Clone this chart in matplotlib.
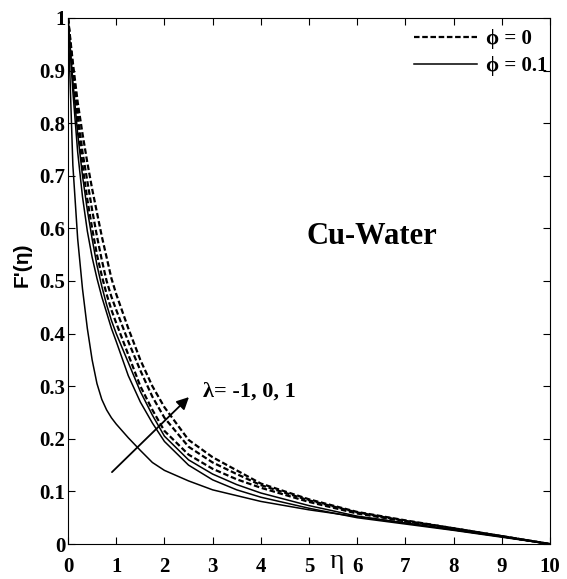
import numpy as np
import matplotlib.pyplot as plt

# eta grid shared by all curves
eta = [0, 0.1, 0.2, 0.3, 0.4, 0.5, 0.6, 0.7, 0.8, 0.9, 1.0, 1.25, 1.5, 1.75, 2.0,
       2.5, 3.0, 3.5, 4.0, 5.0, 6.0, 7.0, 8.0, 9.0, 10.0]

# phi = 0 (dashed), lambda = -1, 0, 1
f_phi0_lm1 = [1.0, 0.895, 0.80, 0.72, 0.655, 0.60, 0.55, 0.51, 0.475, 0.445, 0.42, 0.36, 0.30,
              0.255, 0.215, 0.17, 0.143, 0.123, 0.107, 0.080, 0.058, 0.043, 0.029, 0.015, 0.0]
f_phi0_l0 = [1.0, 0.905, 0.82, 0.745, 0.69, 0.635, 0.585, 0.54, 0.50, 0.47, 0.445, 0.385, 0.33,
             0.28, 0.24, 0.185, 0.155, 0.133, 0.112, 0.083, 0.060, 0.044, 0.030, 0.015, 0.0]
f_phi0_l1 = [1.0, 0.915, 0.84, 0.78, 0.725, 0.675, 0.63, 0.585, 0.545, 0.505, 0.475, 0.41, 0.35,
             0.30, 0.26, 0.198, 0.165, 0.140, 0.115, 0.085, 0.061, 0.045, 0.030, 0.015, 0.0]

# phi = 0.1 (solid), lambda = -1, 0, 1
f_phi1_lm1 = [1.0, 0.72, 0.58, 0.485, 0.41, 0.35, 0.305, 0.275, 0.255, 0.24, 0.228, 0.202, 0.178,
              0.155, 0.140, 0.120, 0.103, 0.092, 0.081, 0.065, 0.052, 0.040, 0.027, 0.014, 0.0]
f_phi1_l0 = [1.0, 0.86, 0.745, 0.66, 0.595, 0.545, 0.505, 0.47, 0.44, 0.41, 0.385, 0.32, 0.27,
             0.23, 0.195, 0.15, 0.122, 0.103, 0.089, 0.068, 0.050, 0.038, 0.026, 0.013, 0.0]
f_phi1_l1 = [1.0, 0.88, 0.78, 0.70, 0.635, 0.58, 0.53, 0.49, 0.455, 0.425, 0.40, 0.345, 0.29,
             0.245, 0.205, 0.16, 0.133, 0.113, 0.097, 0.073, 0.053, 0.040, 0.027, 0.014, 0.0]

serif = ['Liberation Serif', 'DejaVu Serif']

fig = plt.figure(figsize=(5.67, 5.79), dpi=100)
ax = fig.add_axes([0.12, 0.0604, 0.85, 0.9086])

dash = (0, (2.5, 1.2))
for f in (f_phi0_lm1, f_phi0_l0, f_phi0_l1):
    ax.plot(eta, f, color='black', lw=1.6, ls=dash)
for f in (f_phi1_lm1, f_phi1_l0, f_phi1_l1):
    ax.plot(eta, f, color='black', lw=1.1)

# legend handles
ax.plot([], [], color='black', lw=1.6, ls=dash, label='ϕ = 0')
ax.plot([], [], color='black', lw=1.1, label='ϕ = 0.1')
leg = ax.legend(loc='upper right', frameon=False, handlelength=3.0,
                prop={'family': serif, 'weight': 'bold', 'size': 15},
                borderaxespad=0.0, labelspacing=0.35, handletextpad=0.45,
                bbox_to_anchor=(1.012, 0.995))

ax.set_xlim(0, 10)
ax.set_ylim(0, 1)
ax.set_xticks(range(0, 11))
ax.set_yticks(np.arange(0, 1.01, 0.1))
ax.set_yticklabels(['0', '0.1', '0.2', '0.3', '0.4', '0.5', '0.6', '0.7', '0.8', '0.9', '1'])
ax.tick_params(direction='in', top=True, right=True, length=5, width=0.8)
ax.tick_params(axis='x', pad=9)
ax.tick_params(axis='y', pad=2)
for lab in ax.get_xticklabels() + ax.get_yticklabels():
    lab.set_family(serif)
    lab.set_fontweight('bold')
    lab.set_fontsize(15)

ax.set_xlabel('η', fontsize=20, family=serif)
ax.xaxis.set_label_coords(0.558, -0.01)
ax.set_ylabel("F'(η)", fontsize=15, fontweight='bold', family='Liberation Sans')
ax.yaxis.set_label_coords(-0.075, 0.53)

ax.text(6.3, 0.584, 'Cu-Water', ha='center', va='center', family=serif,
        fontweight='bold', fontsize=22)
ax.annotate('', xy=(2.55, 0.283), xytext=(0.87, 0.133),
            arrowprops=dict(arrowstyle='-|>', color='black', lw=1.3, mutation_scale=18))
ax.text(2.8, 0.289, 'λ= -1, 0, 1', ha='left', va='center', family=serif,
        fontweight='bold', fontsize=16)

fig.savefig('out.png', dpi=100)
